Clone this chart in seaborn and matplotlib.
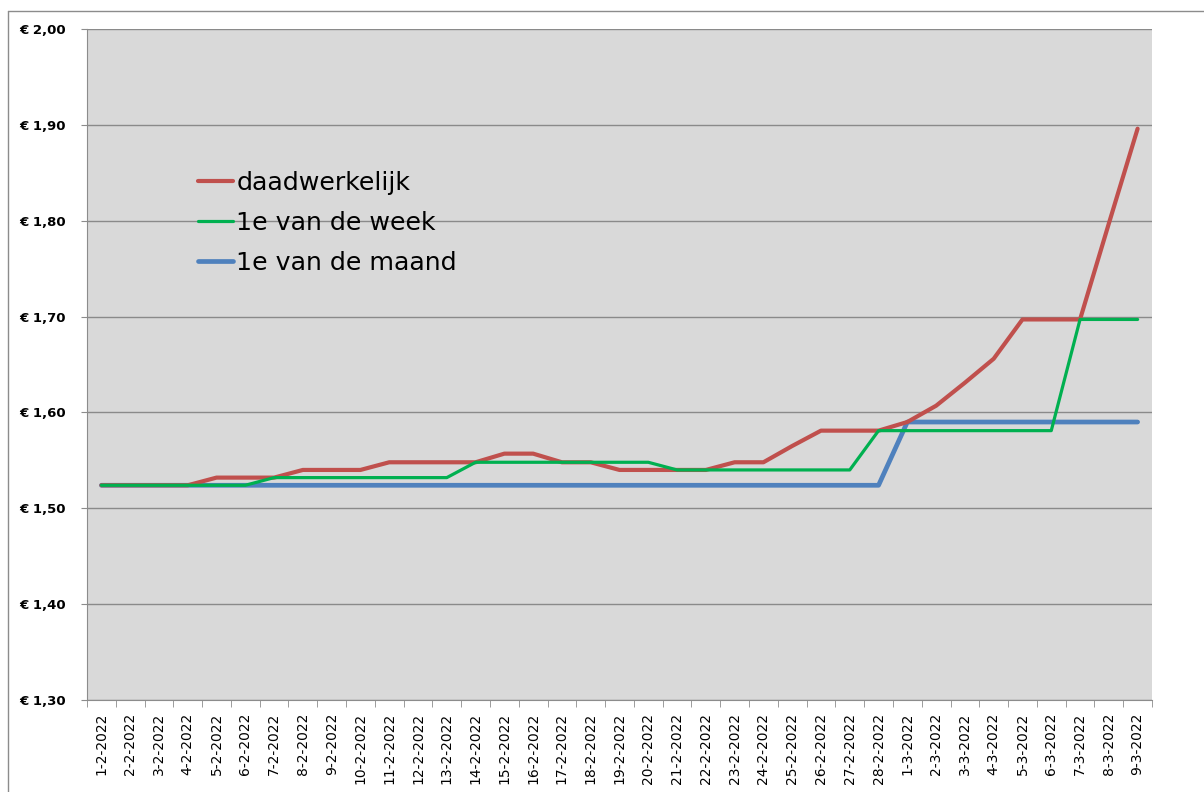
import numpy as np
import pandas as pd
import matplotlib.pyplot as plt
import seaborn as sns
from matplotlib.ticker import FuncFormatter, FixedLocator
from matplotlib.lines import Line2D

# brandstofprijs per liter, februari - maart 2022
dagen = ['1-2-2022', '2-2-2022', '3-2-2022', '4-2-2022', '5-2-2022', '6-2-2022',
         '7-2-2022', '8-2-2022', '9-2-2022', '10-2-2022', '11-2-2022', '12-2-2022',
         '13-2-2022', '14-2-2022', '15-2-2022', '16-2-2022', '17-2-2022', '18-2-2022',
         '19-2-2022', '20-2-2022', '21-2-2022', '22-2-2022', '23-2-2022', '24-2-2022',
         '25-2-2022', '26-2-2022', '27-2-2022', '28-2-2022', '1-3-2022', '2-3-2022',
         '3-3-2022', '4-3-2022', '5-3-2022', '6-3-2022', '7-3-2022', '8-3-2022',
         '9-3-2022']

daadwerkelijk = [1.524, 1.524, 1.524, 1.524, 1.532, 1.532, 1.532, 1.540, 1.540, 1.540,
                 1.548, 1.548, 1.548, 1.548, 1.557, 1.557, 1.548, 1.548, 1.540, 1.540,
                 1.540, 1.540, 1.548, 1.548, 1.565, 1.581, 1.581, 1.581, 1.590, 1.607,
                 1.631, 1.656, 1.697, 1.697, 1.697, 1.797, 1.896]

eerste_week = [1.524, 1.524, 1.524, 1.524, 1.524, 1.524, 1.532, 1.532, 1.532, 1.532,
               1.532, 1.532, 1.532, 1.548, 1.548, 1.548, 1.548, 1.548, 1.548, 1.548,
               1.540, 1.540, 1.540, 1.540, 1.540, 1.540, 1.540, 1.581, 1.581, 1.581,
               1.581, 1.581, 1.581, 1.581, 1.697, 1.697, 1.697]

eerste_maand = [1.524, 1.524, 1.524, 1.524, 1.524, 1.524, 1.524, 1.524, 1.524, 1.524,
                1.524, 1.524, 1.524, 1.524, 1.524, 1.524, 1.524, 1.524, 1.524, 1.524,
                1.524, 1.524, 1.524, 1.524, 1.524, 1.524, 1.524, 1.524, 1.590, 1.590,
                1.590, 1.590, 1.590, 1.590, 1.590, 1.590, 1.590]

y_ticks = [1.30, 1.40, 1.50, 1.60, 1.70, 1.80, 1.90, 2.00]

sns.set_style("white", {"axes.facecolor": "#D9D9D9", "axes.edgecolor": "#8C8C8C",
                        "text.color": "black", "xtick.color": "black", "ytick.color": "black"})
plt.rcParams['font.family'] = ['DejaVu Sans']

df = pd.DataFrame({'dag': np.arange(len(dagen)),
                   'daadwerkelijk': daadwerkelijk,
                   '1e van de week': eerste_week,
                   '1e van de maand': eerste_maand})

fig = plt.figure(figsize=(12.04, 7.92), dpi=100)
ax = fig.add_axes([87/1204, 1-700/792, 1065/1204, 671/792])

for ytick in y_ticks:
    ax.axhline(ytick, color='#8A8A8A', lw=1.0, zorder=1)

sns.lineplot(data=df, x='dag', y='daadwerkelijk', color='#C0504D', lw=3.0,
             label='daadwerkelijk', ax=ax, zorder=3)
sns.lineplot(data=df, x='dag', y='1e van de week', color='#00B050', lw=2.3,
             label='1e van de week', ax=ax, zorder=4)
sns.lineplot(data=df, x='dag', y='1e van de maand', color='#4F81BD', lw=3.4,
             label='1e van de maand', ax=ax, zorder=2)
for line in ax.get_lines():
    line.set_solid_capstyle('round')

ax.set_xlim(-0.5, len(dagen) - 0.5)
ax.set_ylim(1.30, 2.00)
ax.set_xlabel('')
ax.set_ylabel('')

ax.set_xticks(np.arange(len(dagen)))
ax.set_xticklabels(dagen, rotation=90, fontsize=10, color='black')
ax.xaxis.set_minor_locator(FixedLocator(np.arange(len(dagen) + 1) - 0.5))
ax.tick_params(axis='x', which='major', length=0, pad=9)
ax.tick_params(axis='x', which='minor', length=5, color='#8C8C8C', direction='out', bottom=True)

ax.set_yticks(y_ticks)
ax.yaxis.set_major_formatter(FuncFormatter(lambda v, p: ('€ %.2f' % v).replace('.', ',')))
ax.tick_params(axis='y', length=4, color='#8C8C8C', direction='out', pad=11, left=True,
               labelsize=9.5, labelcolor='black')
for lab in ax.get_yticklabels():
    lab.set_fontweight('bold')

for s in ['top', 'right']:
    ax.spines[s].set_visible(False)

leg = ax.legend(loc='upper left', bbox_to_anchor=(0.104, 0.788), frameon=False,
                fontsize=18.2, handlelength=1.4, handletextpad=0.12,
                labelspacing=0.62, borderpad=0, borderaxespad=0)
for t in leg.get_texts():
    t.set_color('black')

# rand van het grafiekgebied
fig.add_artist(Line2D([8/1204, 1], [1-11/792, 1-11/792], color='#8C8C8C', lw=1))
fig.add_artist(Line2D([8/1204, 8/1204], [0, 1-11/792], color='#8C8C8C', lw=1))

fig.savefig('out.png', dpi=100)
